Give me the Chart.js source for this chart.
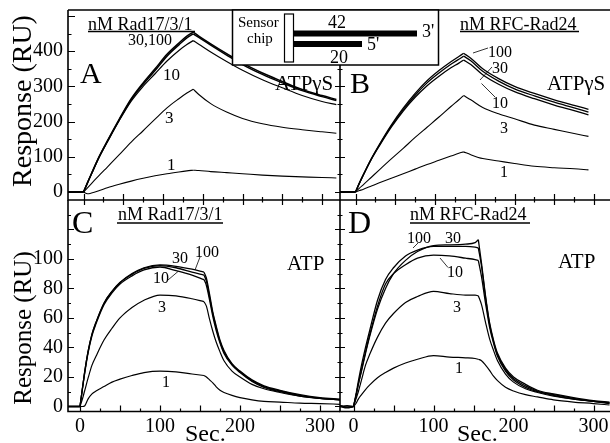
<!DOCTYPE html>
<html>
<head>
<meta charset="utf-8">
<script src="https://cdn.jsdelivr.net/npm/chart.js@4.4.1/dist/chart.umd.min.js"></script>
<style>
  html, body { margin: 0; padding: 0; background: #fff; }
  #fig { position: relative; width: 610px; height: 443px; overflow: hidden; background: #fff;
         font-family: "Liberation Serif", "DejaVu Serif", serif; color: #000; }
  #fig canvas { position: absolute; }
  .t { position: absolute; white-space: nowrap; line-height: 1; }
  .rot { position: absolute; white-space: nowrap; line-height: 1; transform: translate(-50%, -50%) rotate(-90deg); }
  svg { position: absolute; left: 0; top: 0; }
</style>
</head>
<body>
<div id="fig">
  <canvas id="cA" width="340" height="210" style="left:0;top:0"></canvas>
  <canvas id="cB" width="280" height="210" style="left:330px;top:0"></canvas>
  <canvas id="cC" width="340" height="243" style="left:0;top:200px"></canvas>
  <canvas id="cD" width="280" height="243" style="left:330px;top:200px"></canvas>

  <svg width="610" height="443">
    <!-- underlines -->
    <line x1="88" y1="31.5" x2="195" y2="31.5" stroke="#000" stroke-width="1.3"/>
    <line x1="460" y1="31.5" x2="579" y2="31.5" stroke="#000" stroke-width="1.3"/>
    <line x1="117" y1="223" x2="223" y2="223" stroke="#000" stroke-width="1.3"/>
    <line x1="410" y1="223" x2="530" y2="223" stroke="#000" stroke-width="1.3"/>
    <!-- leader lines -->
    <line x1="473" y1="53" x2="488" y2="48" stroke="#000" stroke-width="0.8"/>
    <line x1="480" y1="80" x2="492" y2="67" stroke="#000" stroke-width="0.8"/>
    <line x1="481.5" y1="83.5" x2="495" y2="97" stroke="#000" stroke-width="0.8"/>
    <line x1="195" y1="270" x2="200" y2="257" stroke="#000" stroke-width="0.8"/>
    <line x1="168" y1="280" x2="178" y2="271.5" stroke="#000" stroke-width="0.8"/>
    <line x1="413" y1="248" x2="418" y2="243" stroke="#000" stroke-width="0.8"/>
    <line x1="440" y1="258" x2="448" y2="267.5" stroke="#000" stroke-width="0.8"/>
    <!-- sensor chip inset -->
    <rect x="232.5" y="10" width="206" height="55" fill="#fff" stroke="#000" stroke-width="1.5"/>
    <rect x="284.5" y="14" width="9" height="48" fill="#fff" stroke="#000" stroke-width="1.2"/>
    <rect x="294" y="30.5" width="123" height="6" fill="#000"/>
    <rect x="294" y="41" width="68" height="6" fill="#000"/>
  </svg>

  <!-- panel A -->
  <div class="t" style="left:88px;top:15px;font-size:18px">nM Rad17/3/1</div>
  <div class="t" style="left:128px;top:32px;font-size:16px">30,100</div>
  <div class="t" style="left:80px;top:58px;font-size:30px">A</div>
  <div class="t" style="left:163px;top:66px;font-size:17px">10</div>
  <div class="t" style="left:165px;top:109px;font-size:17px">3</div>
  <div class="t" style="left:167px;top:156px;font-size:17px">1</div>
  <div class="t" style="left:275px;top:73px;font-size:21px">ATPγS</div>
  <!-- panel B -->
  <div class="t" style="left:460px;top:15px;font-size:18px">nM RFC-Rad24</div>
  <div class="t" style="left:350px;top:68px;font-size:30px">B</div>
  <div class="t" style="left:488px;top:43.5px;font-size:16px">100</div>
  <div class="t" style="left:492px;top:59.5px;font-size:16px">30</div>
  <div class="t" style="left:492px;top:94.5px;font-size:16px">10</div>
  <div class="t" style="left:500px;top:119.5px;font-size:16px">3</div>
  <div class="t" style="left:500px;top:163.5px;font-size:16px">1</div>
  <div class="t" style="left:547px;top:73px;font-size:21px">ATPγS</div>
  <!-- inset text -->
  <div class="t" style="left:238px;top:14.5px;font-size:15px">Sensor</div>
  <div class="t" style="left:247px;top:30.5px;font-size:15px">chip</div>
  <div class="t" style="left:328px;top:13px;font-size:18px">42</div>
  <div class="t" style="left:422px;top:22px;font-size:18px">3'</div>
  <div class="t" style="left:367px;top:35px;font-size:18px">5'</div>
  <div class="t" style="left:330px;top:48px;font-size:18px">20</div>
  <!-- panel C -->
  <div class="t" style="left:72px;top:206px;font-size:32px">C</div>
  <div class="t" style="left:118px;top:205px;font-size:18px">nM Rad17/3/1</div>
  <div class="t" style="left:172px;top:249.5px;font-size:16px">30</div>
  <div class="t" style="left:195px;top:243.5px;font-size:16px">100</div>
  <div class="t" style="left:153px;top:269.5px;font-size:16px">10</div>
  <div class="t" style="left:158px;top:298.5px;font-size:16px">3</div>
  <div class="t" style="left:162px;top:373.5px;font-size:16px">1</div>
  <div class="t" style="left:287px;top:252.5px;font-size:21px">ATP</div>
  <!-- panel D -->
  <div class="t" style="left:348px;top:206px;font-size:32px">D</div>
  <div class="t" style="left:410px;top:205px;font-size:18px">nM RFC-Rad24</div>
  <div class="t" style="left:407px;top:229.5px;font-size:16px">100</div>
  <div class="t" style="left:445px;top:229.5px;font-size:16px">30</div>
  <div class="t" style="left:447px;top:263.5px;font-size:16px">10</div>
  <div class="t" style="left:453px;top:298.5px;font-size:16px">3</div>
  <div class="t" style="left:455px;top:359.5px;font-size:16px">1</div>
  <div class="t" style="left:558px;top:250.5px;font-size:21px">ATP</div>
  <!-- axis titles -->
  <div class="rot" style="left:21.5px;top:101px;font-size:28px">Response (RU)</div>
  <div class="rot" style="left:21.5px;top:328px;font-size:25px">Response (RU)</div>
  <div class="t" style="left:185px;top:421px;font-size:24px">Sec.</div>
  <div class="t" style="left:457px;top:421px;font-size:24px">Sec.</div>
</div>

<script>
// ---- data (time in s, response in RU) ----

// A: Rad17/3/1 + ATPγS
const timeA = [-20, 0, 5, 10, 20, 30, 45, 60, 75, 90, 105, 120, 130, 138, 145, 160, 180, 200, 225, 250, 275, 300, 318];
const peakA = 138;
const a100 = [0, 0, 26, 52, 102, 145, 207, 265, 310, 350, 391, 423, 443, 454, 443, 421, 393, 366, 338, 314, 291, 274, 263];
const a30  = [0, 0, 26, 52, 101, 144, 205, 262, 306, 345, 386, 418, 438, 449, 439, 417, 389, 362, 334, 310, 288, 271, 260];
const a10  = [0, 0, 26, 51, 100, 142, 203, 258, 300, 336, 372, 402, 419, 430, 420, 398, 371, 346, 319, 296, 274, 257, 248];
const a3   = [0, 0, 12, 24, 48, 71, 106, 142, 174, 207, 239, 265, 281, 292, 277, 251, 227, 209, 194, 184, 177, 171, 167];
const a1   = [0, 0, -5, -3, 4, 12, 22, 31, 39, 46, 52, 57, 60, 62, 61, 58, 55, 52, 48, 45, 43, 41, 40];

// B: RFC-Rad24 + ATPγS
const timeB = [-20, 0, 5, 10, 20, 30, 45, 60, 75, 90, 105, 120, 130, 136, 145, 160, 180, 200, 225, 250, 275, 293];
const peakB = 136;
const b100 = [0, 0, 26, 50, 95, 135, 190, 238, 280, 316, 345, 370, 385, 394, 380, 350, 322, 300, 280, 262, 246, 235];
const b30  = [0, 0, 26, 49, 94, 133, 187, 234, 275, 310, 338, 363, 377, 386, 373, 343, 315, 293, 273, 255, 239, 227];
const b10  = [0, 0, 25, 49, 93, 131, 184, 230, 269, 302, 329, 353, 366, 375, 362, 333, 306, 285, 265, 247, 231, 219];
const b3   = [0, 0, 11, 21, 42, 63, 94, 124, 155, 184, 213, 243, 262, 274, 262, 240, 222, 208, 190, 178, 166, 158];
const b1   = [0, 0, 4, 8, 17, 26, 39, 52, 65, 78, 90, 102, 110, 114, 106, 95, 88, 81, 73, 69, 66, 63];

// C: Rad17/3/1 + ATP
const timeC = [-15, 0, 3, 6, 10, 15, 20, 30, 40, 50, 65, 80, 100, 120, 140, 155, 158, 162, 166, 170, 175, 180, 190, 200, 215, 230, 250, 275, 300, 325];
const stopC = 155;
const c100 = [0, 0, 12, 24, 37, 49, 57, 70, 78, 84, 90, 94, 96, 95, 93, 91, 87, 76, 64, 55, 45, 38, 29, 24, 18, 14, 11, 8, 6, 5];
const c30  = [0, 0, 12, 24, 37, 49, 57, 70, 78, 84, 89.5, 93.5, 95.5, 94, 91, 89, 85, 74, 63, 54, 44, 37, 28.5, 23.5, 17.5, 13.5, 10.5, 7.5, 5.5, 4.5];
const c10  = [0, 0, 12, 23, 36, 48, 56, 69, 77, 83, 88.5, 92.5, 94.5, 92, 89, 86, 82, 72, 61, 52, 43, 36, 28, 23, 17, 13, 10, 7, 5.5, 4.5];
const c3   = [0, 0, 5, 11, 19, 28, 34, 45, 53, 60, 67, 72, 75.5, 75, 73, 71, 68, 59, 51, 44, 37, 31, 24, 20, 15, 12, 9.5, 7, 5.5, 4.5];
const c1   = [0, 0, 0, 0.5, 5, 8.5, 10.5, 13.5, 16.5, 18.5, 21, 23, 24, 23.5, 22, 21, 20, 18, 16, 13.5, 11, 9.5, 7.5, 6, 4.5, 3.5, 3, 2.3, 2, 1.5];

// D: RFC-Rad24 + ATP
const timeD = [-17, -8, 0, 3, 6, 10, 15, 20, 30, 40, 50, 65, 80, 100, 120, 140, 152, 156, 160, 165, 170, 175, 180, 190, 200, 215, 230, 250, 275, 300, 320];
const stopD = 156;
const d100 = [0.5, -0.5, 0, 8, 17, 28, 40, 51, 72, 86, 94, 102, 106, 108.5, 108.5, 108.5, 108, 107.5, 95, 74, 56, 44, 35, 25, 19, 14, 10.5, 8, 5.5, 3.5, 2.5];
const d30  = [0, 0.5, 0, 7, 15, 24, 36, 47, 66, 80, 90, 99, 105, 109, 109.5, 110, 111, 113, 97, 75, 57, 45, 36, 26, 20, 15, 11, 8.5, 6, 4, 3];
const d10  = [0, -1, 0, 7, 15, 25, 37, 48, 68, 83, 90, 96, 100.5, 102.5, 102, 100.5, 99.5, 99, 88, 70, 54, 43, 34, 24, 18, 13, 10, 7.5, 5, 3.5, 2];
const d3   = [0.5, -0.5, 0, 5, 10, 18, 28, 35, 47, 56.5, 63, 70.5, 74.5, 78, 76.5, 75.5, 75.5, 75, 69, 57, 46, 38, 31, 22, 16.5, 12, 9.5, 7, 5, 3.5, 2.5];
const d1   = [0.5, -0.5, 0, 2, 5, 8, 11.5, 14.5, 19.5, 23, 26, 29.5, 32, 34.5, 33.5, 33, 32.5, 32, 31, 28, 24.5, 20.5, 17.5, 13, 10.5, 8, 6.5, 4.5, 3, 2, 1];

// tick labels
const yLabelsTop = [0, 100, 200, 300, 400];
const yLabelsBottom = [0, 20, 40, 60, 80, 100];
const xLabelsBottom = [0, 100, 200, 300];

const SERIF = '"Liberation Serif", "DejaVu Serif", serif';

// split a trace at injection start and end so the corners stay sharp
function segments(times, values, cutTimes, width) {
  const pts = times.map((t, i) => ({x: t, y: values[i]}));
  const cuts = [0, ...cutTimes.map(c => times.indexOf(c)), pts.length - 1];
  const out = [];
  for (let k = 0; k < cuts.length - 1; k++) {
    out.push({
      data: pts.slice(cuts[k], cuts[k + 1] + 1),
      borderColor: '#000',
      borderWidth: width,
      pointRadius: 0,
      fill: false,
      cubicInterpolationMode: 'monotone'
    });
  }
  return out;
}

// axis lines + inside/outside tick marks drawn from the scales
const axisMarks = {
  id: 'axisMarks',
  afterDraw(chart, args, o) {
    const {ctx, chartArea: a} = chart;
    const xs = chart.scales.x, ys = chart.scales.y;
    ctx.save();
    ctx.strokeStyle = '#000';
    ctx.lineWidth = 1.6;
    ctx.beginPath();
    ctx.moveTo(a.left, a.top); ctx.lineTo(a.left, a.bottom); ctx.lineTo(a.right, a.bottom);
    if (o.top) { ctx.moveTo(a.left, a.top); ctx.lineTo(a.right, a.top); }
    ctx.stroke();

    ctx.lineWidth = 1.2;
    ctx.beginPath();
    const marks = (scale, step, inn, out, vertical) => {
      const start = Math.ceil(scale.min / step) * step;
      for (let v = start; v <= scale.max; v += step) {
        const p = Math.round(scale.getPixelForValue(v)) + 0.5;
        if (vertical) { ctx.moveTo(a.left - out, p); ctx.lineTo(a.left + inn, p); }
        else { ctx.moveTo(p, a.bottom + out); ctx.lineTo(p, a.bottom - inn); }
      }
    };
    marks(xs, o.x.major, o.x.inn, o.x.out, false);
    marks(xs, o.x.minor, o.x.inn / 2, o.x.out / 2, false);
    marks(ys, o.y.major, o.y.inn, o.y.out, true);
    marks(ys, o.y.minor, o.y.inn / 2, o.y.out / 2, true);
    ctx.stroke();
    ctx.restore();
  }
};

// fixed box sizes so the plot area lands where the figure has it
function fixBox(s, w, h) {
  if (w !== undefined) s.width = w;
  if (h !== undefined) s.height = h;
  s.paddingTop = 0; s.paddingBottom = 0; s.paddingLeft = 0; s.paddingRight = 0;
}

function makeChart(id, cfg) {
  const datasets = [];
  cfg.series.forEach(s => datasets.push(...segments(cfg.times, s.values, cfg.cuts, s.width)));
  return new Chart(document.getElementById(id), {
    type: 'line',
    data: {datasets},
    options: {
      responsive: false,
      animation: false,
      devicePixelRatio: 1,
      events: [],
      layout: {padding: {top: cfg.padTop, left: 0, right: 0, bottom: 0}},
      plugins: {
        legend: {display: false},
        tooltip: {enabled: false},
        axisMarks: cfg.marks
      },
      scales: {
        x: {
          type: 'linear', min: cfg.xMin, max: cfg.xMax,
          grid: {display: false, drawTicks: false},
          border: {display: false},
          ticks: {display: !!cfg.xLabels, color: '#000', padding: 3, font: {family: SERIF, size: 20}},
          afterBuildTicks: s => { if (cfg.xLabels) s.ticks = cfg.xLabels.map(v => ({value: v})); },
          afterFit: s => fixBox(s, undefined, cfg.xH)
        },
        y: {
          type: 'linear', min: cfg.yMin, max: cfg.yMax,
          grid: {display: false, drawTicks: false},
          border: {display: false},
          ticks: {display: !!cfg.yLabels, color: '#000', padding: 5, font: {family: SERIF, size: 20}},
          afterBuildTicks: s => { if (cfg.yLabels) s.ticks = cfg.yLabels.map(v => ({value: v})); },
          afterFit: s => fixBox(s, cfg.yW, undefined)
        }
      }
    },
    plugins: [axisMarks]
  });
}

const topMarksX = {major: 50, minor: 25, inn: 6, out: 5};

makeChart('cA', {
  times: timeA, cuts: [0, peakA],
  series: [{values: a100, width: 1.5}, {values: a30, width: 1.5}, {values: a10, width: 1.2}, {values: a3, width: 1.1}, {values: a1, width: 1.1}],
  xMin: -19.5, xMax: 322.6, yMin: -22.7, yMax: 517,
  padTop: 10, xH: 10, yW: 68, yLabels: yLabelsTop,
  marks: {top: true, x: topMarksX, y: {major: 100, minor: 50, inn: 7, out: 0}}
});

makeChart('cB', {
  times: timeB, cuts: [0, peakB],
  series: [{values: b100, width: 1.3}, {values: b30, width: 1.3}, {values: b10, width: 1.3}, {values: b3, width: 1.1}, {values: b1, width: 1.1}],
  xMin: -19.5, xMax: 320.1, yMin: -22.7, yMax: 517,
  padTop: 10, xH: 10, yW: 10,
  marks: {top: true, x: topMarksX, y: {major: 100, minor: 50, inn: 5, out: 5}}
});

makeChart('cC', {
  times: timeC, cuts: [0, stopC],
  series: [{values: c100, width: 1.3}, {values: c30, width: 1.3}, {values: c10, width: 1.3}, {values: c3, width: 1.2}, {values: c1, width: 1.2}],
  xMin: -15, xMax: 325, yMin: -3.39, yMax: 139.9,
  padTop: 0, xH: 31.5, yW: 68, xLabels: xLabelsBottom, yLabels: yLabelsBottom,
  marks: {top: false, x: {major: 50, minor: 25, inn: 6, out: 0}, y: {major: 20, minor: 10, inn: 6, out: 0}}
});

makeChart('cD', {
  times: timeD, cuts: [0, stopD],
  series: [{values: d100, width: 1.3}, {values: d30, width: 1.3}, {values: d10, width: 1.3}, {values: d3, width: 1.2}, {values: d1, width: 1.2}],
  xMin: -16.9, xMax: 320.6, yMin: -3.39, yMax: 139.9,
  padTop: 0, xH: 31.5, yW: 10, xLabels: xLabelsBottom,
  marks: {top: false, x: {major: 50, minor: 25, inn: 6, out: 0}, y: {major: 20, minor: 10, inn: 5, out: 5}}
});
</script>
</body>
</html>
